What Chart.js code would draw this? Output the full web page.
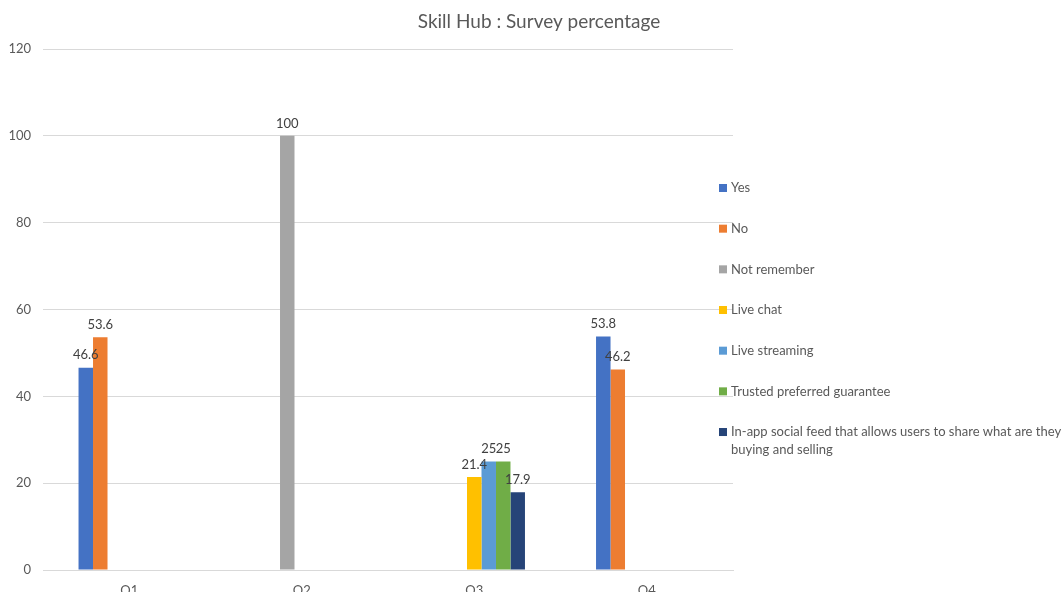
<!DOCTYPE html>
<html>
<head>
<meta charset="utf-8">
<script src="https://cdn.jsdelivr.net/npm/chart.js@4"></script>
<style>
  html, body { margin: 0; padding: 0; background: #fff; }
  #wrap { width: 1062px; height: 592px; }
</style>
</head>
<body>
<div id="wrap"><canvas id="surveyChart"></canvas></div>
<script>
// data
const categories = ['Q1', 'Q2', 'Q3', 'Q4'];
const seriesNames = [
    'Yes',
    'No',
    'Not remember',
    'Live chat',
    'Live streaming',
    'Trusted preferred guarantee',
    'In-app social feed that allows users to share what are they buying and selling'
];
const yesValues = [46.6, null, null, 53.8];
const noValues = [53.6, null, null, 46.2];
const notRememberValues = [null, 100, null, null];
const liveChatValues = [null, null, 21.4, null];
const liveStreamingValues = [null, null, 25, null];
const trustedValues = [null, null, 25, null];
const socialFeedValues = [null, null, 17.9, null];
const yTicks = [0, 20, 40, 60, 80, 100, 120];

const seriesValues = [yesValues, noValues, notRememberValues, liveChatValues,
    liveStreamingValues, trustedValues, socialFeedValues];
const colors = ['#4472C4', '#ED7D31', '#A5A5A5', '#FFC000', '#5B9BD5', '#70AD47', '#264478'];

const FONT = 'Lato, "Open Sans", sans-serif';
const TEXT = '#595959';

// title, value labels and a wrapped legend, like the Excel original
const excelBits = {
    id: 'excelBits',
    afterDatasetsDraw(chart) {
        const ctx = chart.ctx;
        ctx.save();
        // value labels
        ctx.font = '13px ' + FONT;
        ctx.fillStyle = '#404040';
        ctx.textAlign = 'center';
        ctx.textBaseline = 'bottom';
        chart.data.datasets.forEach((ds, i) => {
            const meta = chart.getDatasetMeta(i);
            meta.data.forEach((bar, j) => {
                const v = ds.data[j];
                if (v === null) return;
                ctx.fillText(String(v), bar.x, bar.y - 6);
            });
        });
        // title
        ctx.font = '19px ' + FONT;
        ctx.fillStyle = TEXT;
        ctx.textBaseline = 'middle';
        ctx.fillText('Skill Hub : Survey percentage', 539, 22);
        // legend
        ctx.font = '13px ' + FONT;
        ctx.textAlign = 'left';
        const maxW = 336;
        chart.data.datasets.forEach((ds, i) => {
            const y = 188 + i * 40.67;
            ctx.fillStyle = ds.backgroundColor;
            ctx.fillRect(719, y - 4, 8, 8);
            ctx.fillStyle = TEXT;
            // wrap long labels
            const words = ds.label.split(' ');
            let line = '';
            let ly = y;
            words.forEach(w => {
                const test = line ? line + ' ' + w : w;
                if (ctx.measureText(test).width > maxW && line) {
                    ctx.fillText(line, 731, ly);
                    line = w;
                    ly += 18;
                } else {
                    line = test;
                }
            });
            ctx.fillText(line, 731, ly);
        });
        ctx.restore();
    }
};

document.addEventListener('DOMContentLoaded', () => {
    const ctx = document.getElementById('surveyChart').getContext('2d');
    new Chart(ctx, {
        type: 'bar',
        data: {
            labels: categories,
            datasets: seriesNames.map((name, i) => ({
                label: name,
                data: seriesValues[i],
                backgroundColor: colors[i],
                borderWidth: 0,
                categoryPercentage: 0.588,
                barPercentage: 1
            }))
        },
        options: {
            responsive: true,
            maintainAspectRatio: false,
            animation: false,
            layout: { padding: { top: 49, right: 329, bottom: 0, left: 0 } },
            plugins: {
                legend: { display: false },
                title: { display: false },
                tooltip: { enabled: false }
            },
            scales: {
                x: {
                    grid: { display: false },
                    border: { color: '#d9d9d9' },
                    ticks: { color: TEXT, font: { family: FONT, size: 13 }, padding: 5 },
                    afterFit(scale) { scale.height = 22; }
                },
                y: {
                    min: 0,
                    max: 120,
                    afterBuildTicks(scale) { scale.ticks = yTicks.map(v => ({ value: v })); },
                    grid: { color: '#d9d9d9', drawTicks: false },
                    border: { display: false },
                    ticks: { color: TEXT, font: { family: FONT, size: 13 }, padding: 12 },
                    afterFit(scale) { scale.width = 43; }
                }
            }
        },
        plugins: [excelBits]
    });
});
</script>
</body>
</html>
